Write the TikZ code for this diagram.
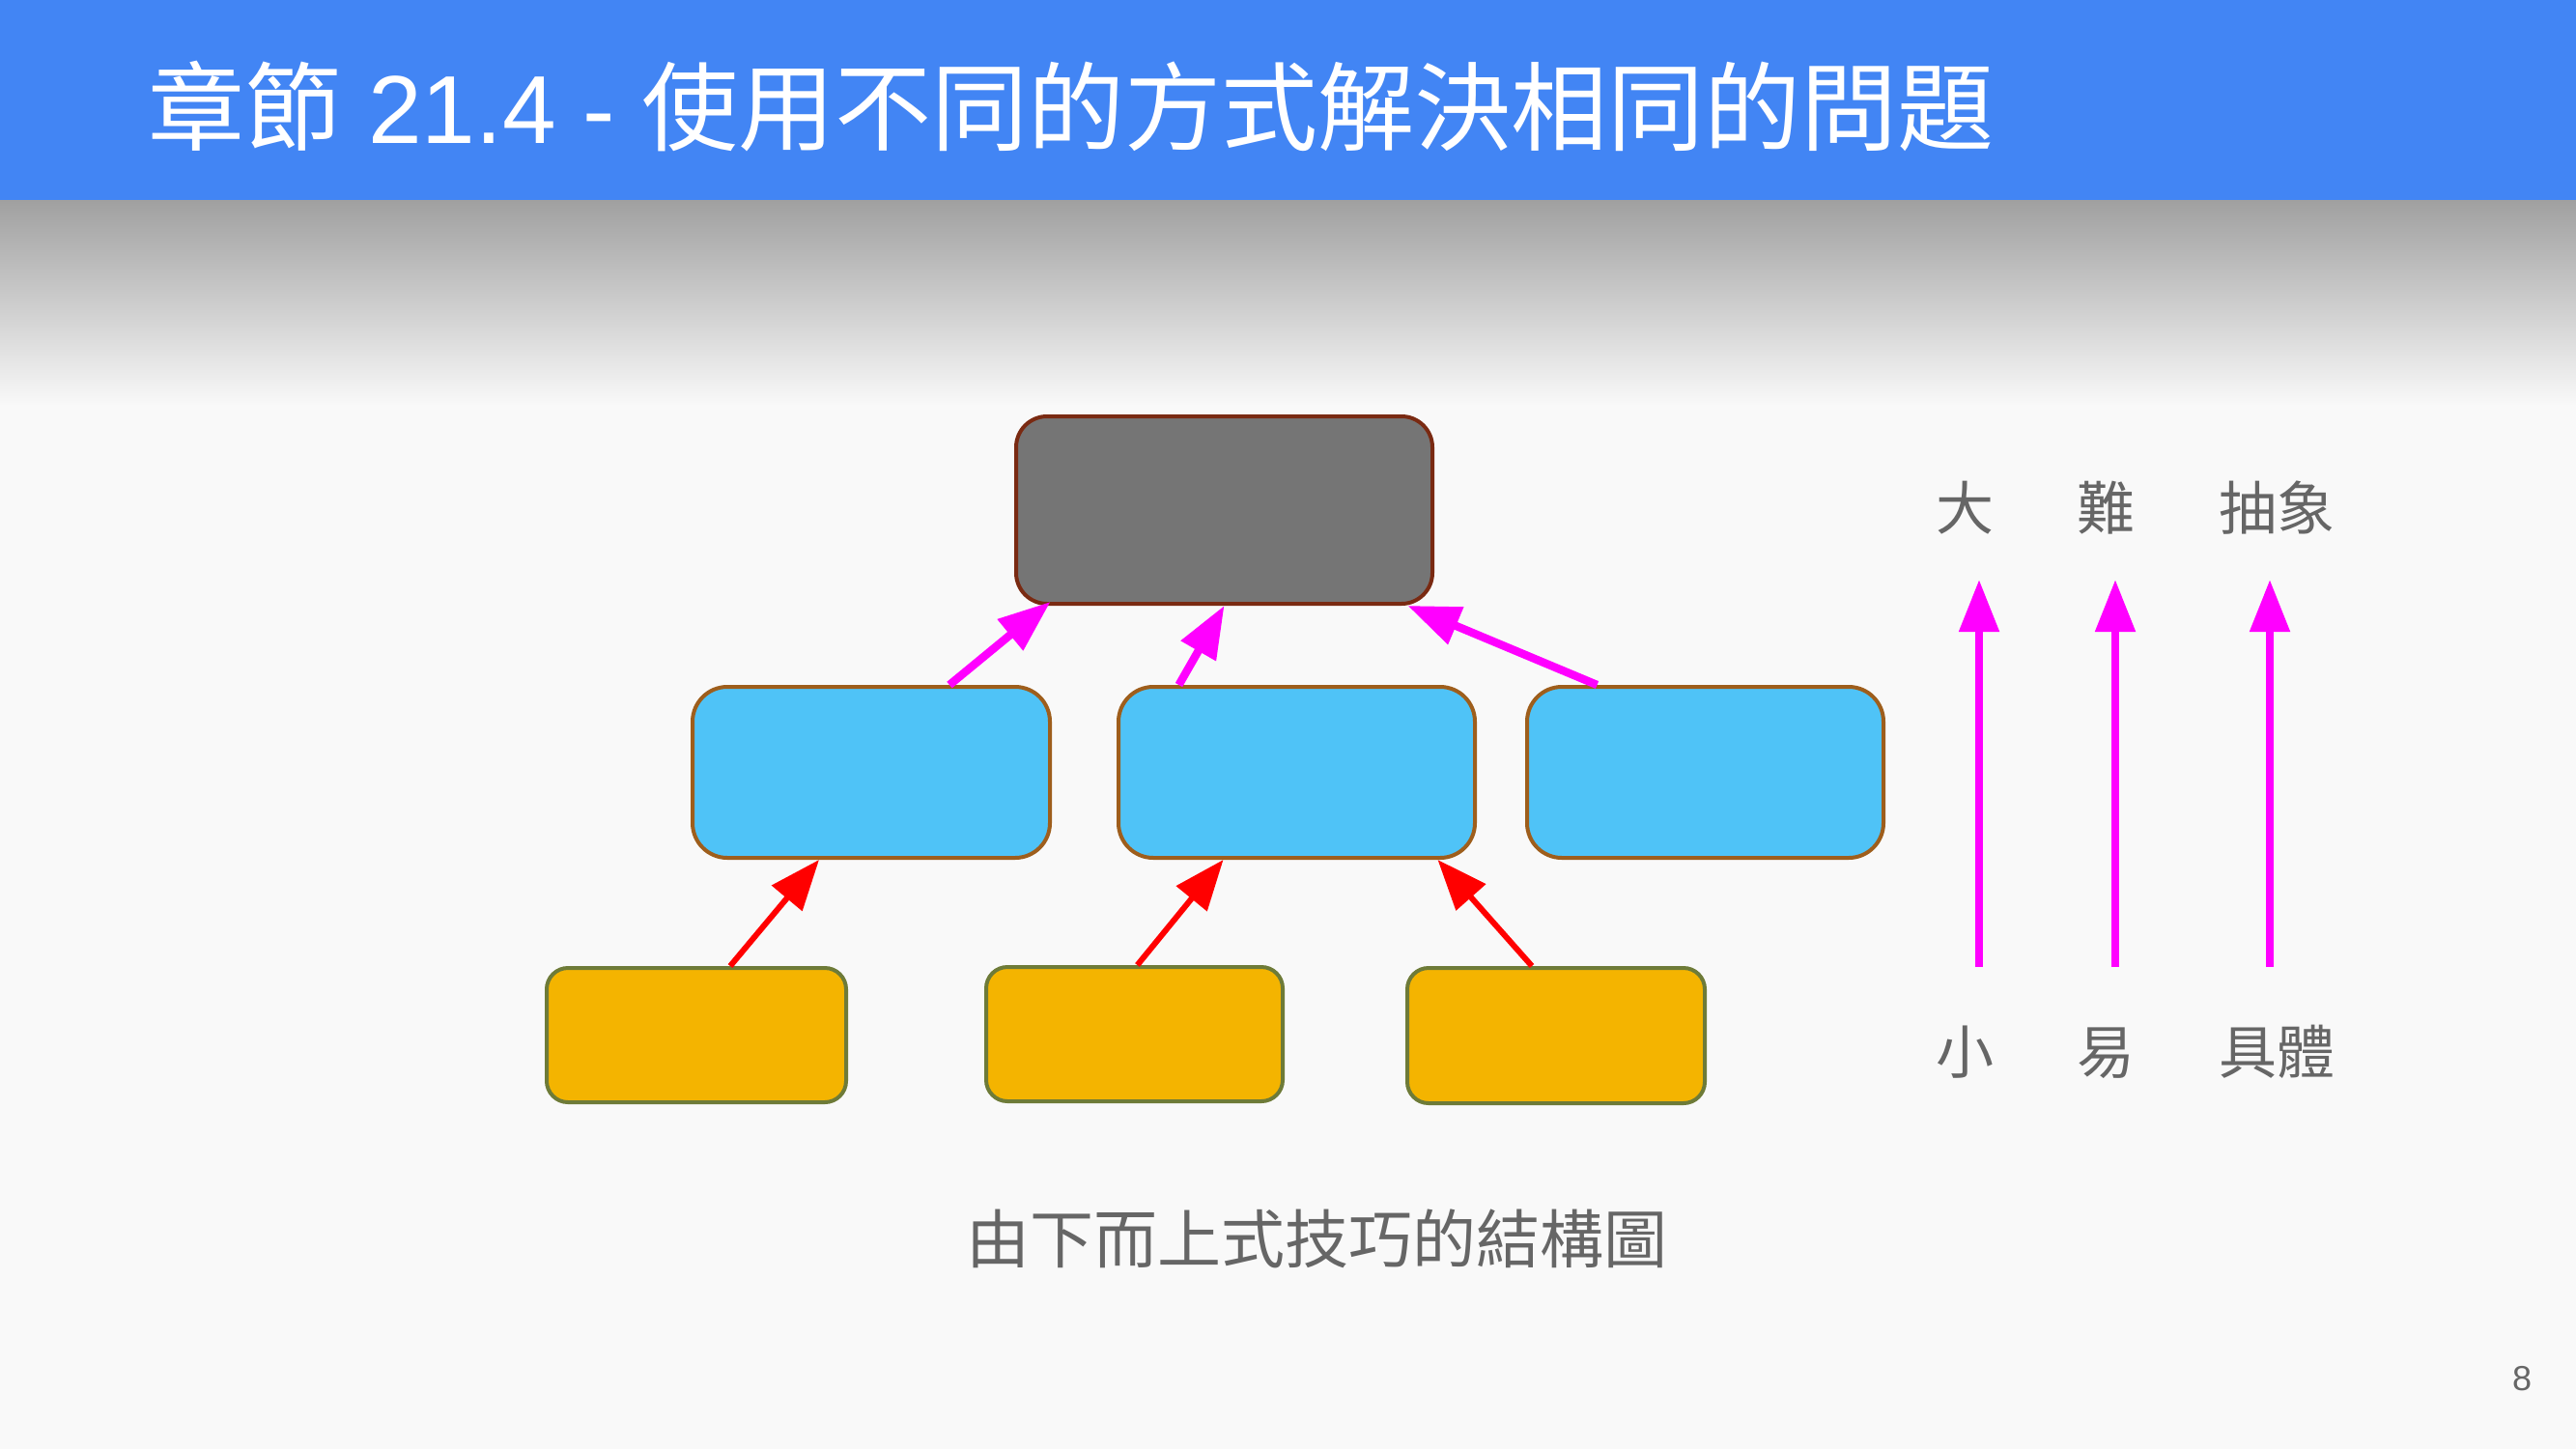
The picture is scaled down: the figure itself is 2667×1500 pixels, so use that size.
\documentclass[tikz,border=0pt]{standalone}
\usepackage{fontspec}
\setmainfont{Liberation Sans}
\newfontfamily\cjk{Noto Sans CJK TC}
\usetikzlibrary{arrows.meta,calc,fit}

\definecolor{barblue}{HTML}{4285F4}
\definecolor{pagebg}{HTML}{F9F9F9}
\definecolor{shadowtop}{HTML}{A0A0A0}
\definecolor{shadowmid}{HTML}{DFDFDF}
\definecolor{rootgray}{HTML}{757575}
\definecolor{rootedge}{HTML}{7A2A12}
\definecolor{midblue}{HTML}{4FC3F7}
\definecolor{midedge}{HTML}{9E5E1C}
\definecolor{leafyellow}{HTML}{F4B400}
\definecolor{leafedge}{HTML}{6E7B38}
\definecolor{arrowmagenta}{HTML}{FF00FF}
\definecolor{arrowred}{HTML}{FF0000}
\definecolor{labelgray}{HTML}{666666}

\begin{document}
\begin{tikzpicture}[x=0.5pt,y=-0.5pt,
  box/.style={draw, line width=2pt, inner sep=0pt},
  rootbox/.style={box, fill=rootgray, draw=rootedge, rounded corners=16pt},
  midbox/.style={box, fill=midblue, draw=midedge, rounded corners=18pt},
  leafbox/.style={box, fill=leafyellow, draw=leafedge, rounded corners=11pt},
  uparrow/.style={-{Triangle[length=27pt,width=20pt]}, line width=4.2pt, draw=arrowmagenta},
  leafarrow/.style={-{Triangle[length=26pt,width=20pt]}, line width=3pt, draw=arrowred},
  sidelabel/.style={font=\cjk\fontsize{30pt}{36pt}\selectfont, text=labelgray, inner sep=0pt, anchor=base},
]
\useasboundingbox (0,0) rectangle (2667,1500);

% page background, title bar and its shadow
\fill[pagebg] (0,0) rectangle (2667,1500);
\shade[top color=shadowtop, middle color=shadowmid, bottom color=pagebg] (0,207) rectangle (2667,420);
\fill[barblue] (0,0) rectangle (2667,207);
\node[anchor=base west, inner sep=0pt, text=white, font=\fontsize{50pt}{60pt}\selectfont] (title)
  at (153,148) {{\cjk 章節} 21.4 - {\cjk 使用不同的方式解決相同的問題}};

% tree: root, middle level, leaves
\node[rootbox, fit={(1052,431) (1483,625)}] (root) {};
\node[midbox, fit={(717,711) (1087,888)}] (m1) {};
\node[midbox, fit={(1158,711) (1527,888)}] (m2) {};
\node[midbox, fit={(1581,711) (1950,888)}] (m3) {};
\node[leafbox, fit={(566,1002) (876,1141)}] (l1) {};
\node[leafbox, fit={(1021,1001) (1328,1140)}] (l2) {};
\node[leafbox, fit={(1457,1002) (1765,1142)}] (l3) {};

% leaves feed the middle level
\draw[leafarrow] ($(l1.north)+(35,0)$) -- ($(m1.south)+(-54,0)$);
\draw[leafarrow] ($(l2.north)+(3,0)$) -- ($(m2.south)+(-76,0)$);
\draw[leafarrow] ($(l3.north)+(-25,0)$) -- ($(m2.south)+(146,0)$);

% middle level feeds the root
\draw[uparrow] ($(m1.north)+(81,0)$) -- ($(root.south)+(-180,-4)$);
\draw[uparrow] ($(m2.north)+(-122,0)$) -- ($(root.south)+(0,0)$);
\draw[uparrow] ($(m3.north)+(-112,0)$) -- ($(root.south)+(190,0)$);

% scales on the right
\node[sidelabel] (big)      at (2034,548) {大};
\node[sidelabel] (hard)     at (2180,548) {難};
\node[sidelabel] (abstract) at (2357,548) {抽象};
\node[sidelabel] (small)    at (2034,1111) {小};
\node[sidelabel] (easy)     at (2180,1111) {易};
\node[sidelabel] (concrete) at (2357,1111) {具體};

\coordinate (s1a) at (2049,1001); \coordinate (s1b) at (2049,600);
\coordinate (s2a) at (2190,1001); \coordinate (s2b) at (2190,600);
\coordinate (s3a) at (2350,1001); \coordinate (s3b) at (2350,600);
\draw[uparrow] (s1a) -- (s1b);
\draw[uparrow] (s2a) -- (s2b);
\draw[uparrow] (s3a) -- (s3b);

% caption and page number
\node[anchor=base, inner sep=0pt, text=labelgray, font=\cjk\fontsize{33pt}{40pt}\selectfont] (caption)
  at (1363,1307) {由下而上式技巧的結構圖};
\node[anchor=base, inner sep=0pt, text=labelgray, font=\fontsize{18pt}{20pt}\selectfont] (pagenum)
  at (2611,1439) {8};
\end{tikzpicture}
\end{document}
